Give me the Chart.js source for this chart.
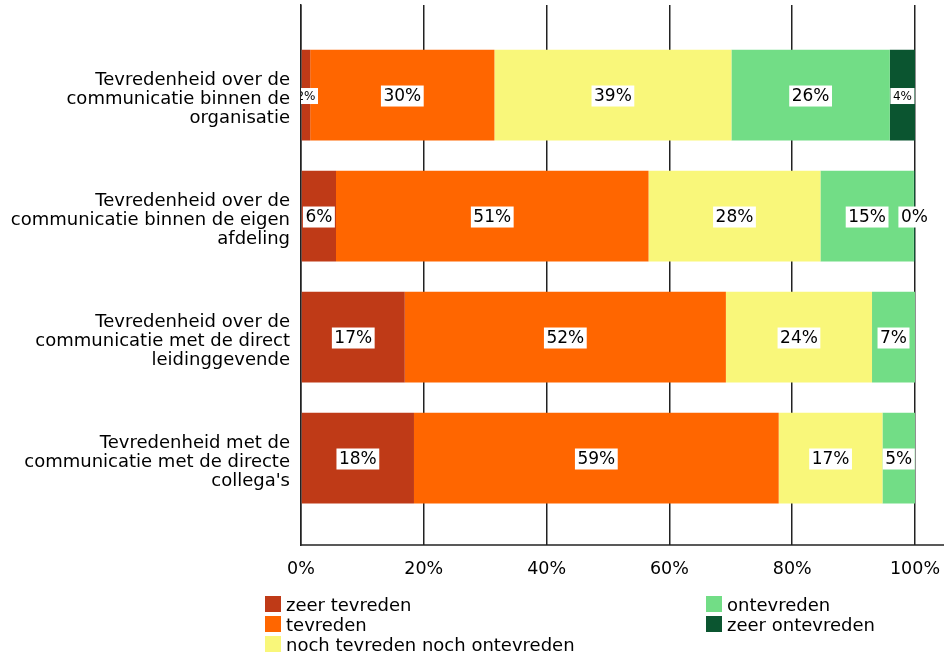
<!DOCTYPE html>
<html>
<head>
<meta charset="utf-8">
<script src="https://cdn.jsdelivr.net/npm/chart.js@4/dist/chart.umd.min.js"></script>
<style>
  html, body { margin: 0; padding: 0; background: #fff; }
  #wrap { position: relative; width: 944px; height: 657px; }
  #legend { position: absolute; left: 0; top: 0; font: 18px "DejaVu Sans", Verdana, sans-serif; color: #000; }
  .item { position: absolute; white-space: nowrap; line-height: 17px; }
  .item span { display: inline-block; width: 16px; height: 16px; vertical-align: top; margin-right: 5px; }
</style>
</head>
<body>
<div id="wrap">
  <canvas id="grafiek" width="944" height="657"></canvas>
  <div id="legend"></div>
</div>
<script>
const categorieen = [
  ['Tevredenheid over de', 'communicatie binnen de', 'organisatie'],
  ['Tevredenheid over de', 'communicatie binnen de eigen', 'afdeling'],
  ['Tevredenheid over de', 'communicatie met de direct', 'leidinggevende'],
  ['Tevredenheid met de', 'communicatie met de directe', "collega's"]
];
const reeksen = ['zeer tevreden', 'tevreden', 'noch tevreden noch ontevreden', 'ontevreden', 'zeer ontevreden'];
const kleuren = ['#bf3a17', '#ff6600', '#f9f77a', '#72dd86', '#0b5530'];

// percentages per categorie, in volgorde van de categorieen
const zeerTevreden = [1.5, 5.7, 16.9, 18.4];
const tevreden = [30.0, 50.9, 52.3, 59.4];
const neutraal = [38.6, 28.0, 23.8, 16.9];
const ontevreden = [25.8, 15.2, 7.0, 5.3];
const zeerOntevreden = [4.1, 0.2, 0, 0];
const xTicks = [0, 20, 40, 60, 80, 100];

const waarden = [zeerTevreden, tevreden, neutraal, ontevreden, zeerOntevreden];
const FONT = '"DejaVu Sans", Verdana, sans-serif';

Chart.defaults.font.family = FONT;
Chart.defaults.font.size = 17.5;
Chart.defaults.color = '#000';

// onderste aslijn loopt door tot de rand van de grafiek
const asLijn = {
  id: 'asLijn',
  beforeDatasetsDraw(chart) {
    const ctx = chart.ctx, a = chart.chartArea;
    ctx.save();
    ctx.strokeStyle = '#222';
    ctx.lineWidth = 1.5;
    ctx.beginPath();
    ctx.moveTo(a.left, a.bottom);
    ctx.lineTo(chart.width, a.bottom);
    ctx.stroke();
    ctx.restore();
  }
};

// percentage in een wit kader midden op elk segment
const balkLabels = {
  id: 'balkLabels',
  afterDatasetsDraw(chart) {
    const ctx = chart.ctx, a = chart.chartArea;
    ctx.save();
    ctx.beginPath();
    ctx.rect(a.left, 0, chart.width - a.left, chart.height);
    ctx.clip();
    ctx.textAlign = 'center';
    ctx.textBaseline = 'middle';
    chart.data.datasets.forEach((ds, d) => {
      chart.getDatasetMeta(d).data.forEach((bar, i) => {
        const v = ds.data[i].x;
        if (!v) return;
        const tekst = Math.round(v) + '%';
        const breedte = Math.abs(bar.x - bar.base);
        let grootte = 17;
        ctx.font = grootte + 'px ' + FONT;
        if (v >= 0.5 && ctx.measureText(tekst).width + 4 > breedte) grootte = 12;
        ctx.font = grootte + 'px ' + FONT;
        const w = ctx.measureText(tekst).width + 5;
        const h = grootte + 4;
        const cx = (bar.x + bar.base) / 2;
        const cy = bar.y + 1;
        ctx.fillStyle = '#fff';
        ctx.fillRect(cx - w / 2, cy - h / 2, w, h);
        ctx.fillStyle = '#000';
        ctx.fillText(tekst, cx, cy + 1);
      });
    });
    ctx.restore();
  }
};

new Chart(document.getElementById('grafiek').getContext('2d'), {
  type: 'bar',
  data: {
    datasets: reeksen.map((naam, r) => ({
      label: naam,
      data: waarden[r].map((v, i) => ({ x: v, y: i })),
      backgroundColor: kleuren[r],
      borderWidth: 0,
      barPercentage: 0.75,
      categoryPercentage: 1
    }))
  },
  options: {
    responsive: false,
    animation: false,
    indexAxis: 'y',
    layout: { padding: { top: 5, right: 29, bottom: 79, left: 0 } },
    plugins: { legend: { display: false }, tooltip: { enabled: false } },
    scales: {
      x: {
        type: 'linear',
        stacked: true,
        min: 0,
        max: 100,
        afterBuildTicks: s => { s.ticks = xTicks.map(v => ({ value: v })); },
        afterFit: s => { s.height = 33; s.paddingLeft = 0; s.paddingRight = 0; },
        ticks: { padding: 14, callback: v => v + '%' },
        grid: { color: '#222', lineWidth: 1.5, drawTicks: false },
        border: { display: false }
      },
      y: {
        type: 'linear',
        stacked: true,
        reverse: true,
        offset: false,
        min: -0.744,
        max: 3.719,
        afterFit: s => { s.width = 301; s.paddingTop = 0; s.paddingBottom = 0; },
        ticks: {
          stepSize: 1,
          includeBounds: false,
          autoSkip: false,
          padding: 11,
          labelOffset: 4,
          font: { size: 18, lineHeight: 1.06 },
          callback: v => (Number.isInteger(v) && categorieen[v]) ? categorieen[v] : ''
        },
        grid: { display: false, drawTicks: false },
        border: { display: true, color: '#222', width: 1.5 }
      }
    }
  },
  plugins: [asLijn, balkLabels]
});

// legenda in twee kolommen onder de grafiek
const legend = document.getElementById('legend');
const kolommen = [[0, 1, 2], [3, 4]];
const kolomX = [265, 706];
kolommen.forEach((kolom, k) => {
  kolom.forEach((r, j) => {
    const el = document.createElement('div');
    el.className = 'item';
    el.style.left = kolomX[k] + 'px';
    el.style.top = (596 + j * 20) + 'px';
    el.innerHTML = '<span style="background:' + kleuren[r] + '"></span>' + reeksen[r];
    legend.appendChild(el);
  });
});
</script>
</body>
</html>
